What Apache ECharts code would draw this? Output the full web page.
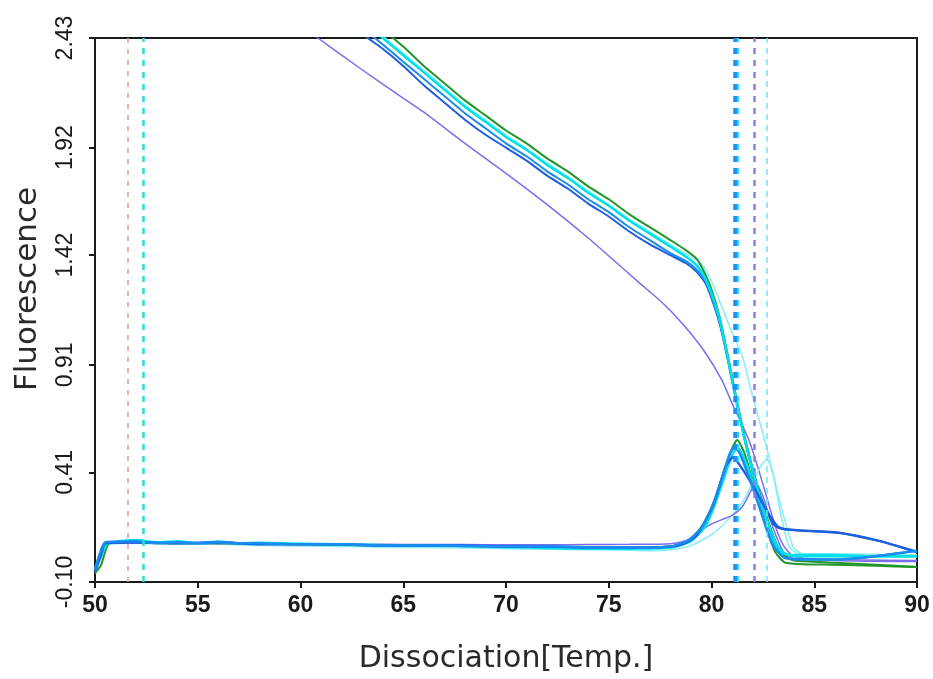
<!DOCTYPE html>
<html>
<head>
<meta charset="utf-8">
<title>Dissociation curves</title>
<script src="https://cdn.jsdelivr.net/npm/echarts@6/dist/echarts.min.js"></script>
<style>
  html, body { margin: 0; padding: 0; background: #ffffff; }
  #chart { width: 933px; height: 679px; }
</style>
</head>
<body>
<div id="chart"></div>
<script>
// Axis ranges and tick labels
const tempTicks = [50, 55, 60, 65, 70, 75, 80, 85, 90];
const fluorTicks = [-0.10, 0.41, 0.91, 1.42, 1.92, 2.43];

// Melt curves: [temperature, fluorescence]
const meltGreen = [[62,2.64],[63,2.55],[64,2.47],[65,2.39],[66,2.30],[67,2.22],[68,2.14],[69,2.07],[70,2.00],[71,1.94],[72,1.87],[73,1.81],[74,1.74],[75,1.68],[76,1.61],[77,1.55],[78,1.49],[78.8,1.44],[79.3,1.40],[79.7,1.33],[80,1.26],[80.4,1.13],[80.8,0.95],[81.2,0.76],[81.6,0.58],[82,0.43],[82.4,0.29],[82.8,0.17],[83.2,0.07],[83.6,0.02],[84,0.0],[86,-0.01],[88,-0.02],[90,-0.03]];
const meltCyan = [[62,2.60],[63,2.51],[64,2.43],[65,2.35],[66,2.27],[67,2.19],[68,2.11],[69,2.04],[70,1.97],[71,1.91],[72,1.84],[73,1.78],[74,1.71],[75,1.65],[76,1.58],[77,1.52],[78,1.46],[78.8,1.41],[79.3,1.37],[79.7,1.31],[80,1.24],[80.4,1.12],[80.8,0.94],[81.2,0.75],[81.6,0.57],[82,0.42],[82.4,0.28],[82.8,0.16],[83.2,0.07],[83.6,0.03],[84,0.02],[86,0.02],[88,0.02],[90,0.02]];
const meltDodger = [[62,2.57],[63,2.48],[64,2.40],[65,2.32],[66,2.24],[67,2.16],[68,2.08],[69,2.01],[70,1.94],[71,1.88],[72,1.81],[73,1.75],[74,1.68],[75,1.62],[76,1.55],[77,1.49],[78,1.43],[78.8,1.39],[79.3,1.35],[79.7,1.30],[80,1.23],[80.4,1.11],[80.8,0.94],[81.2,0.75],[81.6,0.57],[82,0.41],[82.4,0.27],[82.8,0.15],[83.2,0.06],[83.6,0.02],[84,0.005],[86,0.005],[88,0.02],[90,0.045]];
const meltRoyal = [[62,2.55],[63,2.45],[64,2.38],[65,2.30],[66,2.21],[67,2.13],[68,2.05],[69,1.98],[70,1.92],[71,1.86],[72,1.79],[73,1.73],[74,1.66],[75,1.60],[76,1.53],[77,1.47],[78,1.42],[78.8,1.38],[79.3,1.34],[79.7,1.29],[80,1.22],[80.4,1.10],[80.8,0.93],[81.2,0.74],[81.6,0.57],[82,0.42],[82.5,0.27],[83,0.17],[83.3,0.15],[84.3,0.14],[86.1,0.13],[88.2,0.09],[89.8,0.045],[90,0.04]];
const meltLightCyan = [[62,2.61],[64,2.44],[66,2.28],[68,2.12],[70,1.98],[72,1.85],[74,1.72],[76,1.59],[78,1.47],[79.5,1.38],[80,1.30],[80.5,1.18],[81,1.06],[81.5,0.95],[81.9,0.80],[82.3,0.66],[82.7,0.52],[83.1,0.36],[83.5,0.21],[84,0.06],[84.5,0.03],[86,0.03],[90,0.025]];
const meltPurple = [[60.3,2.47],[60.85,2.43],[62,2.35],[64,2.215],[66,2.085],[68,1.94],[70,1.80],[72,1.655],[74,1.50],[75.2,1.40],[76.5,1.29],[77.6,1.20],[78.6,1.10],[79.6,0.98],[80.5,0.84],[81.05,0.72],[81.5,0.63],[81.9,0.54],[82.3,0.42],[82.7,0.29],[83.1,0.16],[83.5,0.07],[84,0.02],[86,0.0],[90,-0.005]];

// Derivative curves: [temperature, -dF/dT]
const derivRoyal = [[50,-0.05],[50.3,0.03],[50.5,0.08],[52,0.085],[54,0.08],[56,0.085],[58,0.075],[60,0.075],[62,0.075],[64,0.07],[66,0.07],[68,0.07],[70,0.065],[72,0.065],[74,0.06],[76,0.06],[77,0.06],[78,0.065],[78.7,0.08],[79.3,0.12],[80.1,0.26],[80.7,0.44],[81.05,0.48],[81.4,0.44],[82,0.35],[82.7,0.23],[83.2,0.16],[83.6,0.145],[84.3,0.14],[86.1,0.13],[88.2,0.09],[89.8,0.045],[90,0.04]];
const derivDodger = [[50,-0.04],[50.3,0.05],[50.5,0.085],[52,0.09],[53,0.08],[54,0.085],[55,0.08],[56,0.085],[57,0.08],[58,0.08],[60,0.075],[62,0.075],[64,0.07],[66,0.07],[68,0.068],[70,0.065],[72,0.065],[74,0.062],[76,0.06],[78,0.065],[78.8,0.09],[79.5,0.15],[80,0.24],[80.5,0.38],[80.9,0.50],[81.15,0.53],[81.5,0.47],[82,0.34],[82.5,0.20],[83,0.07],[83.5,0.015],[84,0.005],[86,0.005],[88,0.02],[90,0.045]];
const derivGreen = [[50,-0.06],[50.3,-0.02],[50.7,0.08],[52,0.085],[54,0.08],[56,0.08],[58,0.078],[60,0.075],[62,0.072],[64,0.07],[66,0.07],[68,0.068],[70,0.066],[72,0.064],[74,0.062],[76,0.06],[78,0.065],[79,0.10],[79.6,0.17],[80.1,0.27],[80.6,0.41],[81,0.52],[81.25,0.56],[81.6,0.50],[82.1,0.34],[82.6,0.17],[83.1,0.04],[83.6,-0.01],[86,-0.02],[88,-0.025],[90,-0.03]];
const derivCyan = [[50,-0.05],[50.3,0.02],[50.6,0.08],[52,0.095],[53,0.085],[54,0.09],[55,0.08],[56,0.088],[57,0.08],[58,0.082],[60,0.078],[62,0.075],[64,0.072],[66,0.07],[68,0.066],[70,0.062],[72,0.058],[74,0.055],[76,0.055],[78,0.06],[79,0.09],[79.7,0.16],[80.2,0.27],[80.7,0.41],[81.05,0.50],[81.3,0.52],[81.7,0.45],[82.2,0.30],[82.7,0.14],[83.3,0.04],[84,0.025],[86,0.025],[88,0.02],[90,0.02]];
const derivPurple = [[50,-0.03],[50.4,0.06],[50.7,0.08],[52,0.08],[54,0.08],[56,0.078],[58,0.078],[60,0.076],[62,0.075],[64,0.075],[66,0.074],[68,0.074],[70,0.073],[72,0.073],[74,0.074],[76,0.075],[78,0.078],[79,0.10],[79.8,0.16],[80.5,0.19],[81,0.21],[81.5,0.25],[81.9,0.32],[82.15,0.36],[82.5,0.30],[83,0.15],[83.5,0.04],[84,0.01],[90,0.0]];
const derivLightCyan = [[50,-0.04],[50.4,0.05],[50.7,0.075],[52,0.08],[54,0.075],[56,0.075],[58,0.07],[60,0.068],[62,0.065],[64,0.062],[66,0.06],[68,0.058],[70,0.055],[72,0.052],[74,0.05],[76,0.048],[77,0.045],[78,0.05],[79,0.07],[80,0.12],[80.8,0.19],[81.5,0.27],[82,0.36],[82.4,0.44],[82.7,0.47],[83,0.40],[83.4,0.20],[83.8,0.06],[84.3,0.03],[86,0.03],[90,0.025]];

// Peak temperature markers (vertical dashed lines)
const peakMarks = [51.6, 52.35, 81.15, 81.28, 82.1, 82.7];

const markStyles = [
  { color: '#c9a3a8', width: 1.5, type: [5, 6] },
  { color: '#1fe0de', width: 2.5, type: [6, 6] },
  { color: '#1d8ff0', width: 4.5, type: [6, 6] },
  { color: '#30d8f0', width: 2, type: [6, 6] },
  { color: '#8a7ee8', width: 2.5, type: [6, 6] },
  { color: '#6de8f2', width: 1.5, type: [6, 5] }
];

function curve(data, color, width, z) {
  return {
    type: 'line',
    data: data,
    showSymbol: false,
    symbol: 'none',
    smooth: 0.2,
    lineStyle: { color: color, width: width },
    z: z,
    animation: false,
    silent: true
  };
}

const chart = echarts.init(document.getElementById('chart'), null, { renderer: 'canvas' });

chart.setOption({
  backgroundColor: '#ffffff',
  animation: false,
  grid: {
    left: 95, right: 16, top: 38, bottom: 95,
    show: true, borderColor: '#1a1a1a', borderWidth: 2,
    backgroundColor: '#ffffff'
  },
  xAxis: {
    type: 'value',
    min: tempTicks[0],
    max: tempTicks[tempTicks.length - 1],
    interval: 5,
    name: 'Dissociation[Temp.]',
    nameLocation: 'middle',
    nameGap: 62,
    nameTextStyle: { fontFamily: 'DejaVu Sans', fontSize: 30, color: '#2a2a2a' },
    axisLine: { show: true, onZero: false, lineStyle: { color: '#1a1a1a', width: 2 } },
    axisTick: { show: true, inside: false, length: 6, lineStyle: { color: '#1a1a1a', width: 2 } },
    axisLabel: {
      margin: 12,
      fontFamily: 'Liberation Sans',
      fontSize: 23,
      fontWeight: 'bold',
      color: '#1a1a1a'
    },
    splitLine: { show: false }
  },
  yAxis: {
    type: 'value',
    min: fluorTicks[0],
    max: fluorTicks[fluorTicks.length - 1],
    name: 'Fluorescence',
    nameLocation: 'middle',
    nameGap: 52,
    nameTextStyle: { fontFamily: 'DejaVu Sans', fontSize: 31, color: '#2a2a2a', padding: [0, 0, 0, 42] },
    axisLine: { show: true, onZero: false, lineStyle: { color: '#1a1a1a', width: 2 } },
    axisTick: { show: true, inside: false, length: 6, customValues: fluorTicks, lineStyle: { color: '#1a1a1a', width: 2 } },
    axisLabel: {
      customValues: fluorTicks,
      rotate: 90,
      margin: 18,
      fontFamily: 'Liberation Sans',
      fontSize: 23,
      color: '#1a1a1a',
      formatter: v => v.toFixed(2)
    },
    splitLine: { show: false }
  },
  series: [
    curve(meltPurple, '#7a6ef0', 1.5, 2),
    curve(meltLightCyan, '#86eef4', 1.5, 2),
    curve(meltRoyal, '#1d5fe0', 2, 3),
    curve(meltDodger, '#1a8cf0', 2, 3),
    curve(meltCyan, '#00e0ea', 2.5, 4),
    curve(meltGreen, '#22962a', 2, 3),
    curve(derivLightCyan, '#86eef4', 1.5, 2),
    curve(derivPurple, '#7a6ef0', 1.5, 2),
    curve(derivGreen, '#22962a', 2, 3),
    curve(derivCyan, '#00e0ea', 2.5, 3),
    curve(derivRoyal, '#1d5fe0', 2.5, 4),
    curve(derivDodger, '#1a8cf0', 2.5, 4),
    {
      type: 'line',
      data: [],
      z: 6,
      silent: true,
      animation: false,
      markLine: {
        silent: true,
        animation: false,
        symbol: 'none',
        label: { show: false },
        emphasis: { disabled: true },
        data: peakMarks.map((t, i) => ({ xAxis: t, lineStyle: markStyles[i] }))
      }
    }
  ]
});
</script>
</body>
</html>
